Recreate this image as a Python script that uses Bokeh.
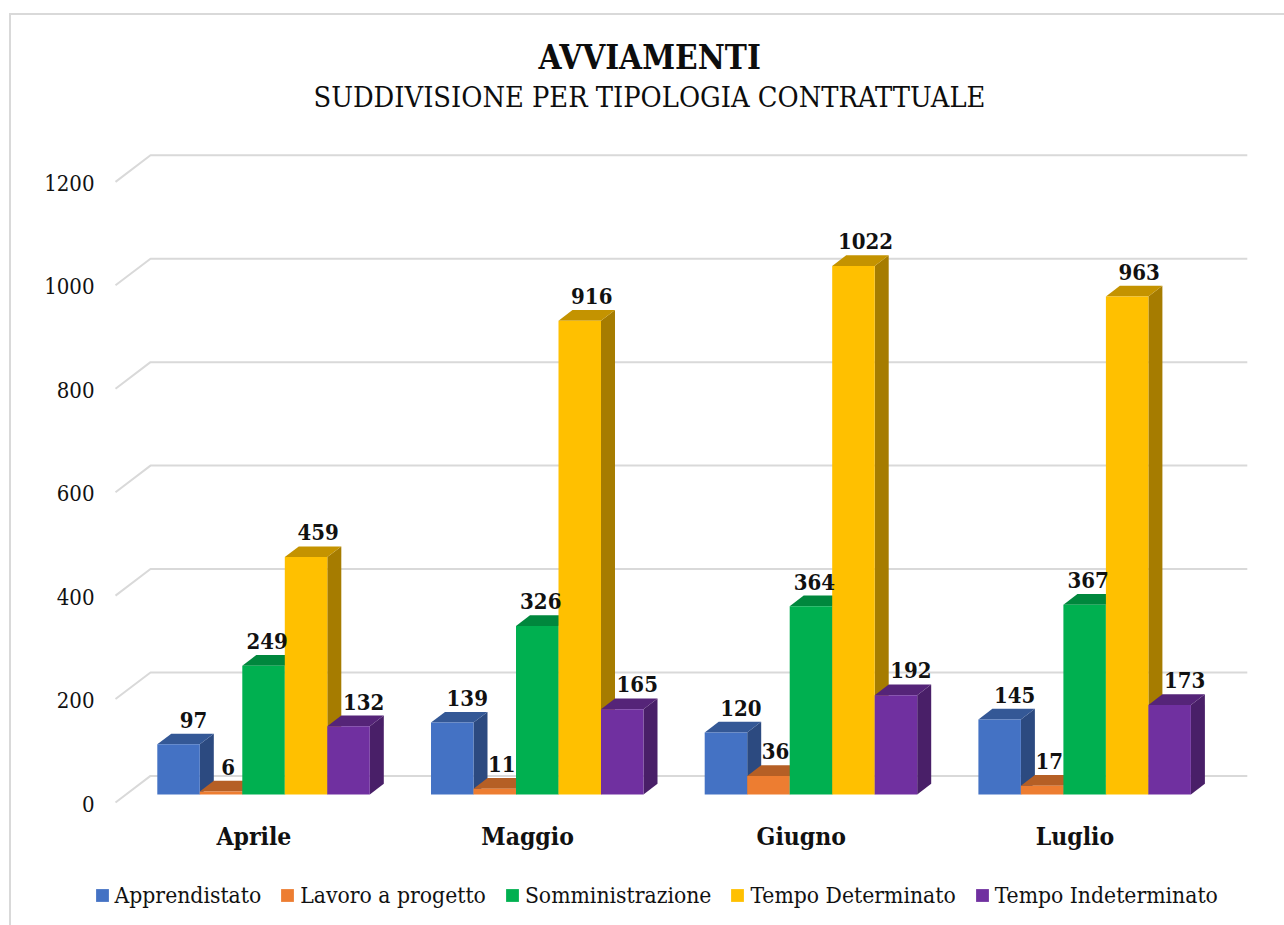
from bokeh.plotting import figure
from bokeh.models import Range1d, Title, Legend, LegendItem, ColumnDataSource
from bokeh.core.properties import value
from bokeh.embed import file_html
from bokeh.resources import INLINE

months = ["Aprile", "Maggio", "Giugno", "Luglio"]
series = ["Apprendistato", "Lavoro a progetto", "Somministrazione", "Tempo Determinato", "Tempo Indeterminato"]
apprendistato = [97, 139, 120, 145]
lavoro_progetto = [6, 11, 36, 17]
somministrazione = [249, 326, 364, 367]
tempo_determinato = [459, 916, 1022, 963]
tempo_indeterminato = [132, 165, 192, 173]
all_values = [apprendistato, lavoro_progetto, somministrazione, tempo_determinato, tempo_indeterminato]
y_ticks = [0, 200, 400, 600, 800, 1000, 1200]

front_colors = ["#4472C4", "#ED7D31", "#00B050", "#FFC000", "#7030A0"]
top_colors = ["#345896", "#B55F25", "#00873D", "#C49300", "#552478"]
side_colors = ["#2C4A80", "#9C5120", "#007434", "#A67C00", "#491F68"]
label_dx = [15, 7, 3.5, 12, 15]

FONT = "DejaVu Serif Condensed"
PX_PER_CAT = 273.7
PX_PER_VAL = 0.5172
px = lambda d: d / PX_PER_CAT
val = lambda d: d / PX_PER_VAL

# figure box starts at page (11, 15)
W, H = 1273, 910
FRAME_L, FRAME_R, FRAME_T, FRAME_B = 0, 1273, 130, 910
ZERO_L, ZERO_B = 104, 787   # where x=-0.5 and y=0 fall, in figure pixels

p = figure(width=W, height=H, output_backend="svg", toolbar_location=None,
           frame_width=FRAME_R - FRAME_L, frame_height=FRAME_B - FRAME_T,
           x_range=Range1d(-0.5 - px(ZERO_L - FRAME_L), -0.5 + px(FRAME_R - ZERO_L)),
           y_range=Range1d(-val(FRAME_B - ZERO_B), val(ZERO_B - FRAME_T)),
           min_border_left=0, min_border_right=0,
           min_border_top=FRAME_T, min_border_bottom=0,
           background_fill_color="white", border_fill_color="white", outline_line_color=None,
           x_axis_location=None, y_axis_location=None,
           margin=(13, 0, 0, 9),
           styles={"border-left": "2px solid #D9D9D9", "border-top": "2px solid #D9D9D9"})
p.grid.visible = False

# titles
p.add_layout(Title(text="SUDDIVISIONE PER TIPOLOGIA CONTRATTUALE", align="left", offset=302,
                   text_font=FONT, text_font_size="28.7px", text_font_style="normal", text_color="#0D0D0D",
                   standoff=64), "above")
p.add_layout(Title(text="AVVIAMENTI", align="left", offset=527,
                   text_font=FONT, text_font_size="33px", text_font_style="bold", text_color="#0D0D0D",
                   standoff=-63), "above")

# value labels of the axis
p.text(x=[-0.5] * len(y_ticks), y=y_ticks, text=[str(t) for t in y_ticks],
       text_font=value(FONT), text_font_size="22px", text_align="right", text_baseline="middle",
       x_offset=-21, y_offset=1, text_color="#111111")

# category labels
p.text(x=list(range(len(months))), y=[0] * len(months), text=months,
       text_font=value(FONT), text_font_size="24.5px", text_font_style="bold",
       text_align="center", text_baseline="middle", x_offset=1.5, y_offset=34, text_color="#111111")

# gridlines: floor stub and wall
WALL_DX, WALL_DY = px(35), val(26.6)
x0, x1 = -0.5, 3.5
for t in y_ticks:
    p.line([x0, x0 + WALL_DX, x1 + WALL_DX + px(2)], [t, t + WALL_DY, t + WALL_DY], line_color="#D9D9D9", line_width=2)

# 3D bars
BAR_W = 42.5 / PX_PER_CAT
OFF_X, OFF_Y = px(11.2), val(8)
D_X, D_Y = px(14), val(10.7)
n = len(series)
legend_items = []
for s, vals in enumerate(all_values):
    L = [i + OFF_X + (s - n / 2) * BAR_W for i in range(len(months))]
    R = [l + BAR_W for l in L]
    B = [OFF_Y] * len(vals)
    T = [OFF_Y + v for v in vals]
    p.patches([[r, r + D_X, r + D_X, r] for r in R],
              [[b, b + D_Y, t + D_Y, t] for b, t in zip(B, T)],
              fill_color=side_colors[s], line_color=None)
    p.patches([[l, l + D_X, r + D_X, r] for l, r in zip(L, R)],
              [[t, t + D_Y, t + D_Y, t] for t in T],
              fill_color=top_colors[s], line_color=None)
    front = p.quad(left=L, right=R, bottom=B, top=T, fill_color=front_colors[s], line_color=None)
    legend_items.append(LegendItem(label=series[s], renderers=[front]))

for s, vals in enumerate(all_values):
    src = ColumnDataSource(dict(
        x=[i + OFF_X + (s - n / 2 + 0.5) * BAR_W + px(label_dx[s]) for i in range(len(months))],
        y=[OFF_Y + D_Y + v for v in vals],
        t=[str(v) for v in vals]))
    p.text(x="x", y="y", text="t", source=src, text_font=value(FONT), text_font_size="22px",
           text_font_style="bold", text_align="center", text_baseline="alphabetic",
           y_offset=-14, text_color="#111111")

legend = Legend(items=legend_items, orientation="horizontal", location=(82.5, 17),
                background_fill_alpha=0, border_line_color=None, padding=0, margin=0,
                glyph_width=16, glyph_height=16, label_standoff=5, spacing=18,
                label_text_font=FONT, label_text_font_size="22.7px", label_text_color="#111111")
p.add_layout(legend, "center")

open("out.html", "w").write(file_html(p, INLINE))
